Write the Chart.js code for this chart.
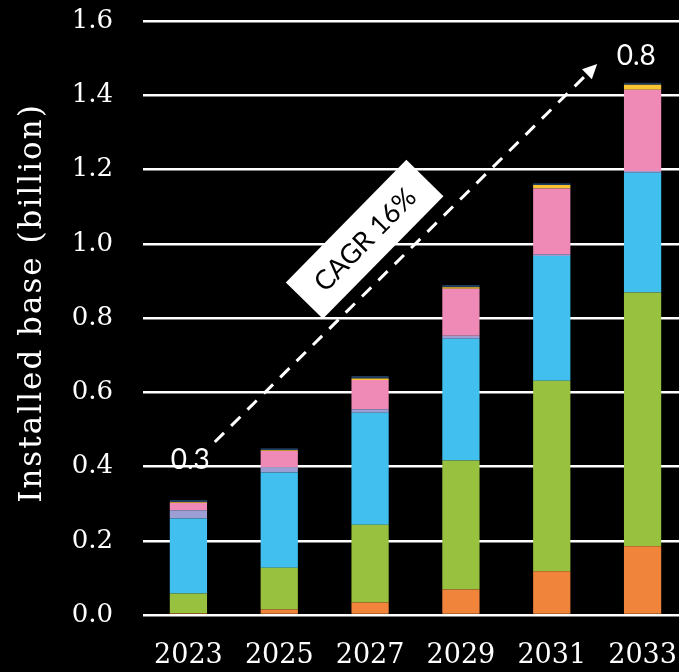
<!DOCTYPE html>
<html>
<head>
<meta charset="utf-8">
<script src="https://cdn.jsdelivr.net/npm/chart.js@4/dist/chart.umd.min.js"></script>
<style>
  html, body { margin: 0; padding: 0; background: #000; overflow: hidden; }
  #wrap { width: 689px; height: 672px; }
</style>
</head>
<body>
<div id="wrap"><canvas id="canvas" width="689" height="672"></canvas></div>
<script>
// years on the x axis
var years = ['2023', '2025', '2027', '2029', '2031', '2033'];
var yTicks = [0, 0.2, 0.4, 0.6, 0.8, 1.0, 1.2, 1.4, 1.6];

// stacked segments, bottom to top (billion)
var orangeVals = [0.005, 0.015, 0.034, 0.069, 0.118, 0.185];
var greenVals  = [0.053, 0.112, 0.209, 0.347, 0.513, 0.684];
var blueVals   = [0.202, 0.257, 0.302, 0.328, 0.336, 0.322];
var purpleVals = [0.022, 0.014, 0.009, 0.008, 0.005, 0.005];
var pinkVals   = [0.020, 0.044, 0.079, 0.127, 0.177, 0.219];
var yellowVals = [0.002, 0.002, 0.004, 0.004, 0.009, 0.013];
var navyVals   = [0.006, 0.005, 0.007, 0.006, 0.005, 0.006];

// annotation anchors in data units (x = category index)
var startLabel = '0.3';
var endLabel = '0.8';
var cagrText = 'CAGR 16%';
var arrowFrom = [0.29, 0.466];
var arrowTo = [4.5, 1.484];
var startLabelAt = [0.02, 0.418];
var endLabelAt = [4.93, 1.506];
var cagrAt = [1.94, 1.012];

var serif = "'DejaVu Serif', serif";

function ds(label, data, color) {
    return {
        label: label,
        data: data,
        backgroundColor: color,
        borderWidth: 0,
        categoryPercentage: 1,
        barPercentage: 0.41
    };
}

var annotate = {
    id: 'annotate',
    afterDatasetsDraw: function (chart) {
        var ctx = chart.ctx;
        var xs = chart.scales.x, ys = chart.scales.y;
        function px(p) { return [xs.getPixelForValue(p[0]), ys.getPixelForValue(p[1])]; }

        var a = px(arrowFrom), b = px(arrowTo);
        var ang = Math.atan2(b[1] - a[1], b[0] - a[0]);
        var head = 16;
        ctx.save();
        // dashed line
        ctx.strokeStyle = '#fff';
        ctx.lineWidth = 3;
        ctx.setLineDash([13, 10]);
        ctx.beginPath();
        ctx.moveTo(a[0], a[1]);
        ctx.lineTo(b[0] - Math.cos(ang) * head * 0.8, b[1] - Math.sin(ang) * head * 0.8);
        ctx.stroke();
        ctx.setLineDash([]);
        // arrow head
        ctx.fillStyle = '#fff';
        ctx.beginPath();
        ctx.moveTo(b[0], b[1]);
        ctx.lineTo(b[0] - Math.cos(ang - 0.45) * head, b[1] - Math.sin(ang - 0.45) * head);
        ctx.lineTo(b[0] - Math.cos(ang + 0.45) * head, b[1] - Math.sin(ang + 0.45) * head);
        ctx.closePath();
        ctx.fill();

        // start / end values
        ctx.font = "28px Lato";
        ctx.textAlign = 'center';
        ctx.textBaseline = 'middle';
        var s = px(startLabelAt), e = px(endLabelAt);
        ctx.fillText(startLabel, s[0], s[1]);
        ctx.fillText(endLabel, e[0], e[1]);

        // rotated CAGR box
        var c = px(cagrAt);
        ctx.translate(c[0], c[1]);
        ctx.rotate(-45.5 * Math.PI / 180);
        ctx.fillStyle = '#fff';
        ctx.fillRect(-86, -26, 172, 52);
        ctx.fillStyle = '#000';
        ctx.font = "27px Lato";
        ctx.fillText(cagrText, 0, 1);
        ctx.restore();

        // y axis title
        ctx.save();
        ctx.translate(33, (chart.chartArea.top + chart.chartArea.bottom) / 2 - 15);
        ctx.rotate(-Math.PI / 2);
        ctx.fillStyle = '#fff';
        ctx.font = "31px " + serif;
        ctx.letterSpacing = '2px';
        ctx.textAlign = 'center';
        ctx.textBaseline = 'middle';
        ctx.fillText('Installed base (billion)', 0, 0);
        ctx.restore();
    }
};

var ctx = document.getElementById('canvas');
var myChart = new Chart(ctx, {
    type: 'bar',
    data: {
        labels: years,
        datasets: [
            ds('Orange', orangeVals, '#F0843A'),
            ds('Green', greenVals, '#97C13F'),
            ds('Blue', blueVals, '#41BFEE'),
            ds('Purple', purpleVals, '#9C9ED4'),
            ds('Pink', pinkVals, '#EF89B5'),
            ds('Yellow', yellowVals, '#F9C433'),
            ds('Navy', navyVals, '#1E3A5C')
        ]
    },
    options: {
        responsive: false,
        animation: false,
        layout: { padding: { top: 21, right: 1, bottom: 0, left: 0 } },
        plugins: {
            legend: { display: false },
            tooltip: { enabled: false }
        },
        scales: {
            x: {
                stacked: true,
                grid: { display: false, drawTicks: true, tickLength: 25, tickColor: 'rgba(0,0,0,0)' },
                border: { display: false },
                ticks: {
                    color: '#fff',
                    font: { family: serif, size: 27 },
                    padding: 0,
                    maxRotation: 0
                },
                afterFit: function (scale) { scale.height = 57; }
            },
            y: {
                stacked: true,
                min: 0,
                max: 1.6,
                afterBuildTicks: function (scale) {
                    scale.ticks = yTicks.map(function (v) { return { value: v }; });
                },
                grid: { color: '#fff', lineWidth: 2.5, drawTicks: true, tickLength: 30, tickColor: 'rgba(0,0,0,0)' },
                border: { display: false },
                ticks: {
                    color: '#fff',
                    font: { family: serif, size: 26 },
                    padding: 0,
                    callback: function (v) { return Number(v).toFixed(1); }
                },
                afterFit: function (scale) { scale.width = 143; }
            }
        }
    },
    plugins: [annotate]
});
</script>
</body>
</html>
